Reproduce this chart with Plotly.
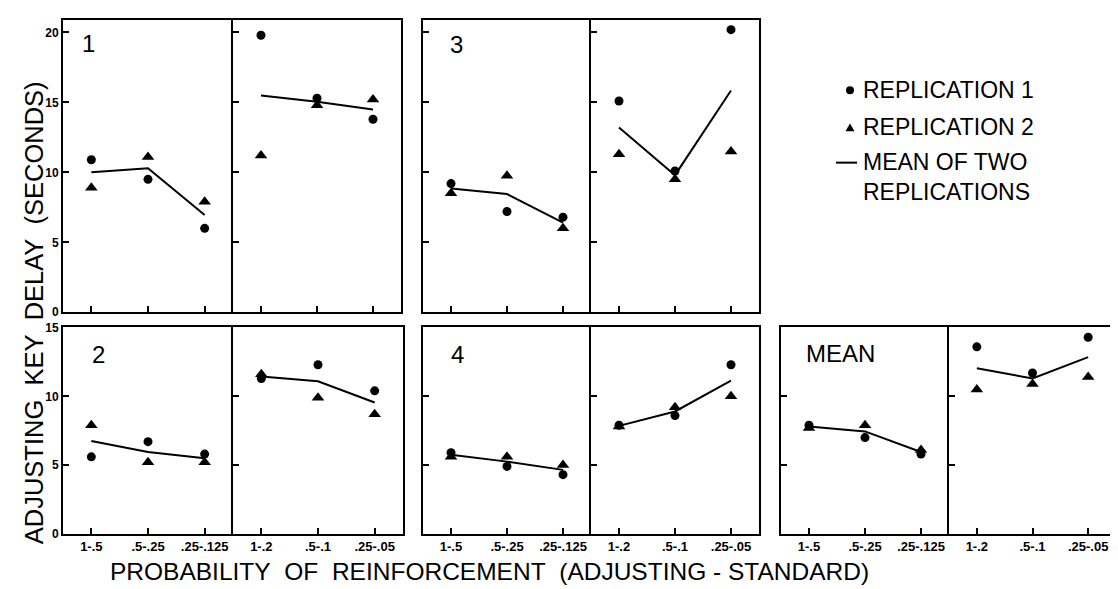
import plotly.graph_objects as go

W, H = 1118, 589

left_cats = ["1-.5", ".5-.25", ".25-.125"]
right_cats = ["1-.2", ".5-.1", ".25-.05"]

# Subject 1
s1_left_rep1 = [10.9, 9.5, 6.0]
s1_left_rep2 = [8.9, 11.1, 7.9]
s1_left_mean = [10.0, 10.3, 6.95]
s1_right_rep1 = [19.8, 15.3, 13.8]
s1_right_rep2 = [11.2, 14.8, 15.2]
s1_right_mean = [15.5, 15.05, 14.5]
# Subject 3
s3_left_rep1 = [9.2, 7.2, 6.8]
s3_left_rep2 = [8.5, 9.75, 6.0]
s3_left_mean = [8.85, 8.45, 6.4]
s3_right_rep1 = [15.1, 10.1, 20.2]
s3_right_rep2 = [11.3, 9.5, 11.5]
s3_right_mean = [13.2, 9.8, 15.85]
# Subject 2
s2_left_rep1 = [5.6, 6.7, 5.8]
s2_left_rep2 = [7.9, 5.2, 5.2]
s2_left_mean = [6.75, 5.95, 5.5]
s2_right_rep1 = [11.3, 12.3, 10.4]
s2_right_rep2 = [11.6, 9.9, 8.7]
s2_right_mean = [11.45, 11.1, 9.55]
# Subject 4
s4_left_rep1 = [5.9, 4.9, 4.3]
s4_left_rep2 = [5.6, 5.6, 5.0]
s4_left_mean = [5.75, 5.25, 4.65]
s4_right_rep1 = [7.9, 8.6, 12.3]
s4_right_rep2 = [7.8, 9.2, 10.0]
s4_right_mean = [7.85, 8.9, 11.15]
# Mean of subjects
m_left_rep1 = [7.9, 7.0, 5.8]
m_left_rep2 = [7.7, 7.9, 6.1]
m_left_mean = [7.8, 7.45, 5.95]
m_right_rep1 = [13.6, 11.7, 14.3]
m_right_rep2 = [10.5, 10.9, 11.4]
m_right_mean = [12.05, 11.3, 12.85]

top_yticks = [0, 5, 10, 15, 20]
bottom_yticks = [0, 5, 10, 15]

FONT = "Liberation Sans"

# (row, x0px, x1px, first_of_row, is_left_half, categories, rep1, rep2, mean)
panels = [
    ("top", 55, 225, True, True, left_cats, s1_left_rep1, s1_left_rep2, s1_left_mean),
    ("top", 225, 393, False, False, right_cats, s1_right_rep1, s1_right_rep2, s1_right_mean),
    ("top", 415, 583, False, True, left_cats, s3_left_rep1, s3_left_rep2, s3_left_mean),
    ("top", 583, 751, False, False, right_cats, s3_right_rep1, s3_right_rep2, s3_right_mean),
    ("bottom", 55, 225, True, True, left_cats, s2_left_rep1, s2_left_rep2, s2_left_mean),
    ("bottom", 225, 395, False, False, right_cats, s2_right_rep1, s2_right_rep2, s2_right_mean),
    ("bottom", 415, 583, False, True, left_cats, s4_left_rep1, s4_left_rep2, s4_left_mean),
    ("bottom", 583, 751, False, False, right_cats, s4_right_rep1, s4_right_rep2, s4_right_mean),
    ("bottom", 773, 941, False, True, left_cats, m_left_rep1, m_left_rep2, m_left_mean),
    ("bottom", 941, 1108, False, False, right_cats, m_right_rep1, m_right_rep2, m_right_mean),
]

rows = {
    "top": dict(y0=6, y1=305, rng=[0, 20.9], ticks=top_yticks, xlabels=False),
    "bottom": dict(y0=320, y1=531.5, rng=[0, 15.05], ticks=bottom_yticks, xlabels=True),
}

fig = go.Figure()
layout = {}

for i, (row, x0, x1, first, is_left, cats, r1, r2, mn) in enumerate(panels):
    n = i + 1
    xa = "x" if n == 1 else f"x{n}"
    ya = "y" if n == 1 else f"y{n}"
    rinfo = rows[row]
    fig.add_trace(go.Scatter(x=cats, y=mn, mode="lines", xaxis=xa, yaxis=ya,
                             line=dict(color="black", width=2), hoverinfo="skip"))
    fig.add_trace(go.Scatter(x=cats, y=r1, mode="markers", xaxis=xa, yaxis=ya,
                             marker=dict(symbol="circle", size=9, color="black")))
    fig.add_trace(go.Scatter(x=cats, y=r2, mode="markers", xaxis=xa, yaxis=ya,
                             marker=dict(symbol="triangle-up", size=11, color="black")))
    common = dict(showline=True, linecolor="black", linewidth=2,
                  ticks="inside", ticklen=6, tickwidth=2, tickcolor="black",
                  showgrid=False, zeroline=False, fixedrange=True)
    layout["xaxis" if n == 1 else f"xaxis{n}"] = dict(
        common,
        mirror=True,
        domain=[x0 / W, x1 / W],
        anchor=ya,
        type="category",
        categoryorder="array",
        categoryarray=cats,
        range=[-0.5, 2.5],
        showticklabels=rinfo["xlabels"],
        tickfont=dict(family=FONT, size=13, color="black", weight="bold"),
    )
    layout["yaxis" if n == 1 else f"yaxis{n}"] = dict(
        common,
        mirror=not is_left,
        domain=[1 - rinfo["y1"] / H, 1 - rinfo["y0"] / H],
        anchor=xa,
        range=rinfo["rng"],
        tickmode="array",
        tickvals=rinfo["ticks"],
        ticktext=[str(t) for t in rinfo["ticks"]],
        showticklabels=first,
        tickfont=dict(family=FONT, size=12, color="black", weight="bold"),
    )

fig.update_layout(**layout)

annotations = []


def px_ann(text, x, y, size, xanchor="center", yanchor="middle", angle=0, align="center"):
    annotations.append(dict(
        text=text, x=x / W, y=1 - y / H, xref="paper", yref="paper",
        xanchor=xanchor, yanchor=yanchor, showarrow=False, textangle=angle,
        align=align, font=dict(family=FONT, size=size, color="black")))


NB = "\u00a0"
# panel labels
px_ann("1", 80, 30, 24)
px_ann("3", 448, 31, 24)
px_ann("2", 90, 348, 24)
px_ann("4", 449, 348, 24)
px_ann("MEAN", 832, 347, 24)

# axis titles
px_ann(f"PROBABILITY{NB}{NB}OF{NB}{NB}REINFORCEMENT{NB}{NB}(ADJUSTING{NB}-{NB}STANDARD)", 481, 570, 24.5)
px_ann(f"ADJUSTING{NB}{NB}KEY{NB}{NB}DELAY{NB}{NB}(SECONDS)", 26, 306, 25.5, angle=-90)

# legend text
px_ann("REPLICATION 1", 853, 78, 23, xanchor="left")
px_ann("REPLICATION 2", 853, 116, 23, xanchor="left")
px_ann("MEAN OF TWO<br>REPLICATIONS", 853, 167, 23, xanchor="left", align="left")

shapes = [
    dict(type="circle", xref="paper", yref="paper",
         x0=838 / W, x1=846 / W, y0=1 - 82 / H, y1=1 - 74 / H,
         fillcolor="black", line=dict(color="black", width=0)),
    dict(type="path", xref="paper", yref="paper",
         path=f"M {837.5 / W},{1 - 120 / H} L {846.5 / W},{1 - 120 / H} L {842 / W},{1 - 112 / H} Z",
         fillcolor="black", line=dict(color="black", width=0)),
    dict(type="line", xref="paper", yref="paper",
         x0=828 / W, x1=849 / W, y0=1 - 152 / H, y1=1 - 152 / H,
         line=dict(color="black", width=2)),
]

fig.update_layout(
    width=W, height=H,
    margin=dict(l=0, r=0, t=0, b=0),
    paper_bgcolor="white", plot_bgcolor="white",
    showlegend=False,
    annotations=annotations,
    shapes=shapes,
    font=dict(family=FONT, color="black"),
)

fig.write_html("out.html")
